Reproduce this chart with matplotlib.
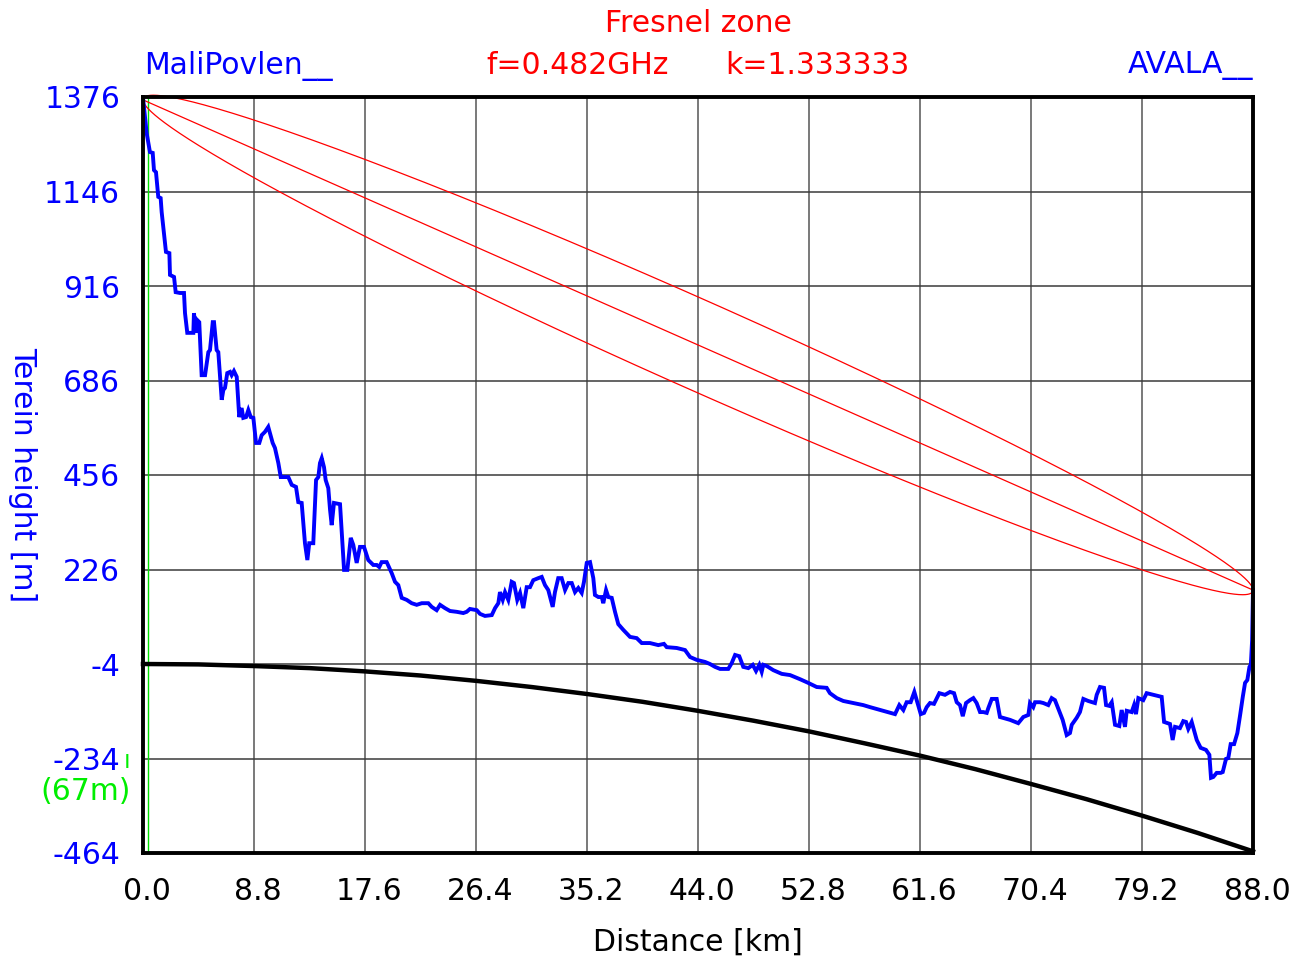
import numpy as np
import matplotlib
matplotlib.use("Agg")
import matplotlib.pyplot as plt
from matplotlib.transforms import ScaledTranslation

plt.rcParams['font.family'] = ['DejaVu Sans']

# ---------------- data ----------------
x_ticks = [0.0, 8.8, 17.6, 26.4, 35.2, 44.0, 52.8, 61.6, 70.4, 79.2, 88.0]
x_tick_labels = ['0.0', '8.8', '17.6', '26.4', '35.2', '44.0', '52.8', '61.6', '70.4', '79.2', '88.0']
y_ticks = [1376, 1146, 916, 686, 456, 226, -4, -234, -464]

distance_km = [
    0.02, 0.29, 0.55, 0.77, 0.87, 1.03, 1.21, 1.40, 1.48, 1.82,
    2.09, 2.14, 2.46, 2.59, 2.93, 3.25, 3.33, 3.51, 3.99, 4.04,
    4.20, 4.30, 4.46, 4.65, 4.92, 5.18, 5.31, 5.53, 5.63, 5.84,
    5.97, 6.24, 6.37, 6.50, 6.68, 6.90, 7.03, 7.21, 7.43, 7.63,
    7.82, 7.95, 8.17, 8.35, 8.54, 8.75, 8.96, 9.22, 9.41, 9.67,
    9.93, 10.28, 10.46, 10.73, 10.92, 11.52, 11.79, 12.13, 12.31, 12.58,
    12.84, 13.03, 13.18, 13.50, 13.72, 13.90, 14.03, 14.17, 14.35, 14.48,
    14.69, 14.83, 14.96, 15.14, 15.62, 15.94, 16.20, 16.47, 16.67, 16.94,
    17.20, 17.52, 17.86, 18.26, 18.53, 18.73, 18.92, 19.32, 19.72, 19.98,
    20.24, 20.51, 20.91, 21.30, 21.70, 22.10, 22.62, 22.89, 23.28, 23.55,
    23.94, 24.34, 24.87, 25.39, 25.66, 25.92, 26.46, 26.72, 27.11, 27.65,
    27.91, 28.17, 28.30, 28.52, 28.70, 28.96, 29.23, 29.41, 29.67, 29.89,
    30.15, 30.42, 30.68, 30.94, 31.34, 31.61, 31.87, 32.13, 32.48, 32.66,
    32.92, 33.19, 33.46, 33.72, 33.99, 34.25, 34.51, 34.78, 34.96, 35.18,
    35.44, 35.70, 35.83, 36.10, 36.37, 36.49, 36.71, 36.89, 37.16, 37.42,
    37.68, 38.08, 38.61, 39.14, 39.54, 40.19, 40.85, 41.30, 41.52, 42.31,
    42.97, 43.37, 43.90, 44.56, 44.95, 45.35, 45.75, 46.40, 46.67, 46.94,
    47.27, 47.59, 47.99, 48.34, 48.60, 48.86, 49.05, 49.18, 49.45, 49.97,
    50.64, 51.30, 52.09, 52.74, 53.41, 54.20, 54.46, 55.00, 55.52, 56.31,
    57.10, 57.64, 58.69, 59.62, 59.96, 60.28, 60.54, 60.86, 61.15, 61.39,
    61.66, 61.92, 62.13, 62.39, 62.71, 63.13, 63.58, 63.98, 64.30, 64.51,
    64.77, 64.99, 65.25, 65.56, 65.83, 66.09, 66.36, 66.62, 66.89, 67.02,
    67.29, 67.68, 67.94, 68.74, 69.39, 69.79, 70.19, 70.32, 70.58, 70.72,
    71.11, 71.38, 71.77, 72.04, 72.30, 72.70, 72.91, 73.23, 73.49, 73.63,
    74.02, 74.28, 74.55, 74.94, 75.47, 75.61, 75.87, 76.19, 76.35, 76.61,
    76.80, 77.06, 77.40, 77.59, 77.85, 77.99, 78.38, 78.57, 78.72, 78.91,
    79.30, 79.57, 80.10, 80.76, 80.95, 81.42, 81.63, 81.82, 82.21, 82.47,
    82.69, 82.87, 83.14, 83.54, 83.85, 84.27, 84.54, 84.67, 84.85, 85.12,
    85.44, 85.60, 85.86, 86.04, 86.23, 86.50, 86.76, 86.98, 87.19, 87.37,
    87.55, 87.72, 87.83, 87.93, 88.00,
]
terrain_m = [
    1369, 1288, 1242, 1240, 1198, 1193, 1133, 1130, 1096, 999,
    996, 943, 938, 901, 899, 899, 850, 802, 802, 850,
    802, 833, 828, 699, 699, 755, 760, 828, 828, 760,
    755, 639, 663, 668, 704, 707, 699, 709, 695, 597,
    619, 595, 597, 614, 597, 595, 534, 534, 553, 561,
    573, 534, 522, 485, 451, 451, 432, 427, 390, 388,
    290, 249, 290, 290, 444, 451, 485, 497, 475, 444,
    424, 371, 334, 388, 385, 225, 225, 303, 286, 242,
    281, 281, 249, 237, 237, 232, 244, 244, 217, 196,
    188, 157, 152, 144, 140, 144, 144, 135, 127, 140,
    132, 125, 123, 120, 123, 130, 127, 118, 113, 115,
    132, 144, 171, 152, 171, 152, 196, 193, 152, 169,
    132, 183, 183, 200, 205, 208, 188, 176, 135, 171,
    205, 205, 176, 193, 193, 171, 181, 169, 196, 242,
    244, 205, 164, 159, 159, 144, 176, 159, 157, 123,
    93, 79, 62, 59, 47, 47, 42, 45, 37, 35,
    30, 13, 6, 1, -4, -11, -16, -16, -2, 18,
    15, -11, -14, -6, -21, -6, -23, -6, -9, -19,
    -28, -31, -41, -50, -60, -62, -75, -87, -94, -99,
    -104, -109, -118, -126, -104, -116, -97, -97, -72, -97,
    -126, -123, -109, -99, -101, -75, -79, -72, -75, -97,
    -104, -131, -99, -92, -87, -99, -121, -121, -123, -111,
    -89, -89, -133, -140, -148, -133, -128, -99, -109, -97,
    -97, -99, -104, -87, -92, -123, -140, -177, -172, -152,
    -135, -121, -89, -94, -99, -79, -60, -62, -104, -106,
    -97, -152, -155, -116, -157, -118, -121, -104, -126, -87,
    -92, -75, -79, -84, -145, -150, -189, -157, -160, -143,
    -145, -162, -145, -189, -208, -213, -225, -281, -279, -269,
    -269, -267, -235, -233, -199, -199, -172, -128, -84, -50,
    -43, -11, -6, 54, 176,
]

# earth curvature line (k = 4/3), read every 4.4 km
curve_km = [0.0, 4.4, 8.8, 13.2, 17.6, 22.0, 26.4, 30.8, 35.2, 39.6, 44.0,
            48.4, 52.8, 57.2, 61.6, 66.0, 70.4, 74.8, 79.2, 83.6, 88.0]
curve_m = [-4, -5, -9, -14, -22, -32, -45, -60, -77, -96, -118,
           -142, -168, -197, -227, -260, -296, -333, -373, -415, -460]

# Fresnel zone
los_start_m = 1369
los_end_m = 176
path_length_km = 88.0
fresnel_halfwidth_mid_m = 117
antenna_marker_km = 0.37

# ---------------- figure ----------------
W, H = 1303, 960
fig = plt.figure(figsize=(W / 100, H / 100), dpi=100)
ax = fig.add_axes([143 / W, 1 - 853 / H, (1253 - 143) / W, (853 - 97) / H])
ax.set_xlim(0, 88)
ax.set_ylim(-464, 1376)

# grid
for xv in x_ticks[1:-1]:
    ax.axvline(xv, color='#6e6e6e', lw=1.3, zorder=1)
for yv in y_ticks[1:-1]:
    ax.axhline(yv, color='#3a3a3a', lw=1.1, zorder=1)

# green antenna marker
ax.axvline(antenna_marker_km, color='#00dd00', lw=1.0, zorder=2)

# Fresnel ellipse (sheared along the line of sight)
t = np.linspace(0, 2 * np.pi, 721)
half = path_length_km / 2
ex = half + half * np.cos(t)
los_y = los_start_m + (los_end_m - los_start_m) * ex / path_length_km
ey = los_y + fresnel_halfwidth_mid_m * np.sin(t)
ax.plot(ex, ey, color='#ff0000', lw=0.9, zorder=3, clip_on=False)
ax.plot([0, path_length_km], [los_start_m, los_end_m], color='#ff0000', lw=0.9, zorder=3)

# terrain
ax.plot(distance_km, terrain_m, color='#0000ff', lw=2.8, zorder=4, clip_on=False,
        solid_joinstyle='miter')

# earth curvature
ax.plot(curve_km, curve_m, color='black', lw=3.2, zorder=5, clip_on=False)

for s in ax.spines.values():
    s.set_linewidth(2.8)
    s.set_color('black')
    s.set_zorder(6)

fs = 21.5
ax.set_xticks(x_ticks)
ax.set_xticklabels(x_tick_labels)
ax.set_yticks(y_ticks)
ax.set_yticklabels([str(v) for v in y_ticks])
ax.tick_params(axis='both', length=0, labelsize=fs)
ax.tick_params(axis='y', colors='#0000ff', pad=16.5)
ax.tick_params(axis='x', colors='black', pad=17)
shift = ScaledTranslation(4 / 100, 0, fig.dpi_scale_trans)
for lbl in ax.get_xticklabels():
    lbl.set_transform(lbl.get_transform() + shift)

fig.text(698 / W, 1 - 23 / H, 'Fresnel zone', color='#ff0000', fontsize=fs, ha='center', va='center')
fig.text(144 / W, 1 - 66 / H, 'MaliPovlen__', color='#0000ff', fontsize=fs, ha='left', va='center')
fig.text(486 / W, 1 - 66 / H, 'f=0.482GHz', color='#ff0000', fontsize=fs, ha='left', va='center')
fig.text(725 / W, 1 - 66 / H, 'k=1.333333', color='#ff0000', fontsize=fs, ha='left', va='center')
fig.text(1253 / W, 1 - 66 / H, 'AVALA__', color='#0000ff', fontsize=fs, ha='right', va='center')
fig.text(23 / W, 1 - 475 / H, 'Terein height [m]', color='#0000ff', fontsize=fs,
         rotation=270, ha='center', va='center')
fig.text(698 / W, 1 - 942 / H, 'Distance [km]', color='black', fontsize=fs, ha='center', va='center')
fig.text(86 / W, 1 - 792 / H, '(67m)', color='#00ee00', fontsize=fs, ha='center', va='center')
fig.text(127 / W, 1 - 761 / H, 'ı', color='#00ee00', fontsize=17, ha='center', va='center')

fig.savefig('out.png', dpi=100)
